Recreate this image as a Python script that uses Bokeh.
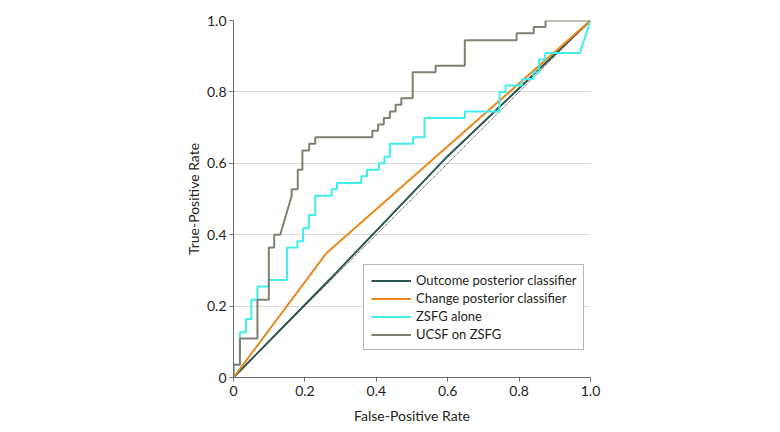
from bokeh.plotting import figure
from bokeh.models import Range1d, FixedTicker, Legend, LegendItem
from bokeh.embed import file_html
from bokeh.resources import INLINE

# ---- data ----
ticks = [0, 0.2, 0.4, 0.6, 0.8, 1.0]
tick_labels = ["0", "0.2", "0.4", "0.6", "0.8", "1.0"]

chance_fpr = [0, 1]
chance_tpr = [0, 1]

outcome_fpr = [0, 0.27, 0.6, 0.8, 1.0]
outcome_tpr = [0, 0.275, 0.62, 0.81, 1.0]

change_fpr = [0, 0.26, 1.0]
change_tpr = [0, 0.348, 1.0]

zsfg_fpr = [0, 0, 0.018, 0.018, 0.035, 0.035, 0.050, 0.050, 0.067, 0.067, 0.099, 0.099,
            0.150, 0.150, 0.179, 0.179, 0.195, 0.195, 0.211, 0.211, 0.229, 0.229, 0.275, 0.275,
            0.290, 0.290, 0.358, 0.358, 0.374, 0.374, 0.407, 0.407, 0.423, 0.423, 0.438, 0.438,
            0.503, 0.503, 0.535, 0.535, 0.648, 0.648, 0.745, 0.745, 0.762, 0.762, 0.808, 0.808,
            0.840, 0.840, 0.856, 0.856, 0.873, 0.873, 0.970, 1.0]
zsfg_tpr = [0, 0.036, 0.036, 0.127, 0.127, 0.164, 0.164, 0.218, 0.218, 0.255, 0.255, 0.273,
            0.273, 0.364, 0.364, 0.382, 0.382, 0.418, 0.418, 0.455, 0.455, 0.509, 0.509, 0.527,
            0.527, 0.545, 0.545, 0.564, 0.564, 0.582, 0.582, 0.600, 0.600, 0.618, 0.618, 0.655,
            0.655, 0.673, 0.673, 0.727, 0.727, 0.745, 0.745, 0.800, 0.800, 0.818, 0.818, 0.836,
            0.836, 0.855, 0.855, 0.891, 0.891, 0.909, 0.909, 1.0]

ucsf_fpr = [0, 0, 0.018, 0.018, 0.067, 0.067, 0.099, 0.099, 0.114, 0.114, 0.131, 0.163, 0.163,
            0.180, 0.180, 0.193, 0.193, 0.212, 0.212, 0.229, 0.229, 0.389, 0.389, 0.405, 0.405,
            0.421, 0.421, 0.438, 0.438, 0.454, 0.454, 0.470, 0.470, 0.502, 0.502, 0.566, 0.566,
            0.648, 0.648, 0.793, 0.793, 0.841, 0.841, 0.874, 0.874, 1.0]
ucsf_tpr = [0, 0.036, 0.036, 0.109, 0.109, 0.218, 0.218, 0.364, 0.364, 0.400, 0.400, 0.509, 0.527,
            0.527, 0.582, 0.582, 0.636, 0.636, 0.655, 0.655, 0.673, 0.673, 0.691, 0.691, 0.709,
            0.709, 0.727, 0.727, 0.745, 0.745, 0.764, 0.764, 0.782, 0.782, 0.855, 0.855, 0.873,
            0.873, 0.945, 0.945, 0.964, 0.964, 0.982, 0.982, 1.0, 1.0]

series_names = ["Outcome posterior classifier", "Change posterior classifier", "ZSFG alone", "UCSF on ZSFG"]
series_colors = ["#2B5652", "#E8891E", "#3FEDEB", "#808070"]

FONT = "Lato"
TXT = "#231F20"

p = figure(width=764, height=428, output_backend="svg", toolbar_location=None,
           x_range=Range1d(0, 1), y_range=Range1d(0, 1))
p.min_border_left = 233
p.min_border_right = 174
p.min_border_top = 20
p.min_border_bottom = 51
p.outline_line_color = None
p.background_fill_color = "white"
p.border_fill_color = "white"

for ax in (p.xaxis[0], p.yaxis[0]):
    ax.ticker = FixedTicker(ticks=ticks)
    ax.major_label_overrides = {t: l for t, l in zip(ticks, tick_labels)}
    ax.minor_tick_line_color = None
    ax.major_tick_in = 0
    ax.major_tick_out = 4
    ax.axis_line_color = "#6d6d6d"
    ax.major_tick_line_color = "#6d6d6d"
    ax.major_label_text_font = FONT
    ax.major_label_text_font_size = "14px"
    ax.major_label_text_color = TXT
    ax.axis_label_text_font = FONT
    ax.axis_label_text_font_size = "14px"
    ax.axis_label_text_font_style = "normal"
    ax.axis_label_text_color = TXT

p.xaxis.axis_label = "False-Positive Rate"
p.yaxis.axis_label = "True-Positive Rate"
p.xaxis.major_label_standoff = 4
p.yaxis.major_label_standoff = 3
p.xaxis.axis_label_standoff = 8
p.yaxis.axis_label_standoff = 2

p.xgrid.grid_line_color = None
p.ygrid.grid_line_color = "#dcdcdc"
p.ygrid.grid_line_width = 1

r1 = p.line(outcome_fpr, outcome_tpr, line_color=series_colors[0], line_width=2)
p.line(chance_fpr, chance_tpr, line_color="#444444", line_width=1, line_dash="1 1")
r2 = p.line(change_fpr, change_tpr, line_color=series_colors[1], line_width=2)
r3 = p.line(zsfg_fpr, zsfg_tpr, line_color=series_colors[2], line_width=2)
r4 = p.line(ucsf_fpr, ucsf_tpr, line_color=series_colors[3], line_width=2)

legend = Legend(items=[LegendItem(label=n, renderers=[r]) for n, r in
                       zip(series_names, [r1, r2, r3, r4])],
                location=(130, 27))
legend.label_text_font = FONT
legend.label_text_font_size = "13px"
legend.label_text_color = TXT
legend.glyph_width = 40
legend.glyph_height = 15
legend.label_height = 15
legend.label_standoff = 5
legend.spacing = 2
legend.padding = 7
legend.margin = 0
legend.border_line_color = "#6d6d6d"
legend.border_line_width = 1
legend.background_fill_alpha = 1
p.add_layout(legend, "center")

open("out.html", "w").write(file_html(p, INLINE))
